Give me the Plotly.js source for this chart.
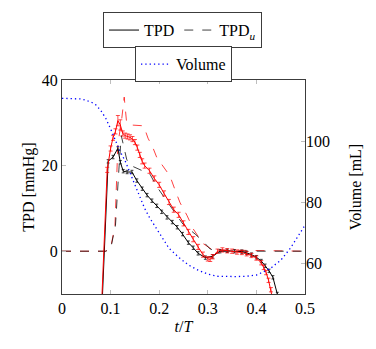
<!DOCTYPE html>
<html>
<head>
<meta charset="utf-8">
<script src="https://cdn.plot.ly/plotly-3.0.1.min.js"></script>
<style>
  body { margin: 0; background: #fff; }
  #plotTPD { width: 376px; height: 349px; }
</style>
</head>
<body>
<div id="plotTPD"></div>
<script>
// Access plot div
let plotTPD = document.getElementById("plotTPD");

// TPD (black, solid) and its uncertainty
var tpdX = [0.083, 0.095, 0.105, 0.115, 0.12, 0.126, 0.134, 0.144, 0.154, 0.165, 0.175, 0.185, 0.195, 0.205, 0.216, 0.227, 0.237, 0.248, 0.26, 0.27, 0.28, 0.295, 0.31, 0.325, 0.34, 0.355, 0.37, 0.38, 0.39, 0.4, 0.41, 0.418, 0.426, 0.434, 0.443];
var tpdY = [-11, 21, 22, 24, 20.8, 18.7, 18.5, 18.5, 16.5, 14.6, 13.1, 11.8, 10.6, 9.2, 7.9, 6.8, 5.6, 4, 2, 0.8, -0.5, -1.5, -1.2, 0, 0.1, 0, -0.1, -0.4, -0.8, -1.4, -2.3, -3.4, -4.6, -6.1, -10];
var tpdErr = [0.4, 0.4, 0.4, 0.4, 0.4, 0.4, 0.4, 0.4, 0.4, 0.4, 0.4, 0.4, 0.4, 0.4, 0.4, 0.4, 0.4, 0.4, 0.4, 0.4, 0.4, 0.4, 0.4, 0.4, 0.4, 0.4, 0.4, 0.4, 0.4, 0.4, 0.4, 0.4, 0.4, 0.4, 0.4];

// TPD_u (black, dashed)
var tpduX = [0, 0.09, 0.1, 0.11, 0.117, 0.122, 0.128, 0.133, 0.138, 0.15, 0.171, 0.181, 0.195, 0.208, 0.228, 0.249, 0.274, 0.29, 0.305, 0.32, 0.5];
var tpduY = [0, 0, 0.5, 6, 19, 27, 24, 21.5, 20.2, 19.6, 18.5, 18, 15.1, 12.9, 9.7, 6.3, 4, 2.3, 0.5, 0, 0];

// TPD (red, solid)
var tpdRedX = [0.082, 0.093, 0.1, 0.105, 0.11, 0.115, 0.12, 0.125, 0.13, 0.135, 0.14, 0.145, 0.15, 0.155, 0.16, 0.165, 0.17, 0.18, 0.19, 0.2, 0.21, 0.22, 0.23, 0.24, 0.25, 0.26, 0.27, 0.28, 0.29, 0.3, 0.305, 0.31, 0.32, 0.33, 0.34, 0.35, 0.36, 0.37, 0.38, 0.39, 0.4, 0.41, 0.415, 0.42, 0.425, 0.43, 0.435];
var tpdRedY = [-11, 19, 24, 26.5, 28, 30.5, 29.5, 27.5, 27, 26.8, 26.6, 26.2, 25.5, 24.2, 22.5, 21, 20, 18.8, 17, 15.5, 13.5, 11.5, 9.7, 8.5, 6.5, 4.5, 2.8, 1, -0.8, -1.8, -1.9, -1.3, 0, 0.3, 0.1, 0, -0.2, -0.3, -0.6, -1, -1.6, -2.7, -3.8, -5, -6.8, -9, -12];
var tpdRedErr = [0.6, 0.6, 0.6, 0.6, 0.6, 1.2, 1.2, 0.6, 0.6, 0.6, 0.6, 0.6, 0.6, 0.6, 0.6, 0.6, 0.6, 0.6, 0.6, 0.6, 0.6, 0.6, 0.6, 0.6, 0.6, 0.6, 0.6, 0.6, 0.6, 0.5, 0.5, 0.5, 0.5, 0.5, 0.5, 0.5, 0.5, 0.5, 0.5, 0.5, 0.5, 0.5, 0.5, 0.5, 0.5, 0.5, 0.5];

// TPD_u (red, dashed)
var tpduRedX = [0, 0.09, 0.1, 0.109, 0.115, 0.123, 0.128, 0.133, 0.14, 0.168, 0.177, 0.187, 0.195, 0.208, 0.222, 0.233, 0.243, 0.257, 0.27, 0.29, 0.31, 0.5];
var tpduRedY = [0, 0, 0.7, 6, 25, 31, 36, 30, 29.5, 29.3, 26.4, 24.2, 21.9, 19.9, 17.6, 14.2, 11.3, 8.4, 5.2, 1.8, 0.3, 0];

// Ventricular volume (blue, dotted)
var volX = [0, 0.02, 0.04, 0.06, 0.07, 0.08, 0.09, 0.1, 0.11, 0.12, 0.13, 0.14, 0.15, 0.16, 0.17, 0.18, 0.19, 0.2, 0.21, 0.22, 0.24, 0.26, 0.28, 0.3, 0.32, 0.34, 0.36, 0.38, 0.4, 0.41, 0.42, 0.43, 0.44, 0.45, 0.46, 0.47, 0.48, 0.49, 0.5];
var volY = [114, 114, 113.8, 112.8, 111.8, 110, 107.5, 104, 100, 96.5, 93.5, 89.5, 85.5, 81.5, 78, 75, 72.5, 70, 67.5, 65, 62, 59.5, 57.8, 56.5, 55.8, 55.7, 55.7, 55.8, 56.2, 56.9, 57.6, 58.5, 59.8, 61, 63, 65, 67.5, 70, 72.5];

var xTicks = [0, 0.1, 0.2, 0.3, 0.4, 0.5];
var tpdTicks = [0, 20, 40];
var volTicks = [60, 80, 100];

function drawTPD(plotDiv) {

  var red = 'rgb(255,0,0)';
  var black = 'rgb(0,0,0)';

  var tpdRed = {
    x: tpdRedX, y: tpdRedY,
    type: 'scatter', mode: 'lines',
    line: { color: red, width: 1 },
    error_y: { type: 'data', array: tpdRedErr, color: red, thickness: 0.7, width: 2 },
    showlegend: false
  };

  var tpduRed = {
    x: tpduRedX, y: tpduRedY,
    type: 'scatter', mode: 'lines',
    line: { color: red, width: 1, dash: 'dash' },
    opacity: 0.75,
    showlegend: false
  };

  var tpd = {
    x: tpdX, y: tpdY,
    name: 'TPD',
    type: 'scatter', mode: 'lines',
    line: { color: black, width: 1 },
    error_y: { type: 'data', array: tpdErr, color: black, thickness: 0.7, width: 1.5 },
    legend: 'legend',
    legendrank: 1
  };

  var tpdu = {
    x: tpduX, y: tpduY,
    name: 'TPD<sub><i>u</i></sub>',
    type: 'scatter', mode: 'lines',
    line: { color: black, width: 1, dash: 'dash' },
    opacity: 0.75,
    legend: 'legend',
    legendrank: 2
  };

  var volume = {
    x: volX, y: volY,
    name: 'Volume',
    yaxis: 'y2',
    type: 'scatter', mode: 'lines',
    line: { color: 'rgb(0,0,255)', width: 1.3, dash: '1.3px,3px' },
    legend: 'legend2'
  };

  var data = [tpduRed, tpdu, volume, tpd, tpdRed];

  var axisFont = { family: 'Liberation Serif, serif', size: 16, color: 'black' };

  var layout = {
    width: 376,
    height: 349,
    paper_bgcolor: 'white',
    plot_bgcolor: 'white',
    font: axisFont,
    margin: { l: 62, r: 71, t: 73, b: 55 },
    legend: {
      orientation: 'h',
      x: 0.496, y: 1.317,
      xanchor: 'center', yanchor: 'top',
      bordercolor: 'rgb(60,60,60)', borderwidth: 1,
      font: axisFont,
      itemwidth: 30,
      traceorder: 'normal'
    },
    legend2: {
      orientation: 'h',
      x: 0.5, y: 1.158,
      xanchor: 'center', yanchor: 'top',
      bordercolor: 'rgb(60,60,60)', borderwidth: 1,
      font: axisFont,
      itemwidth: 30
    },
    xaxis: {
      range: [0, 0.5],
      tickvals: xTicks,
      ticktext: xTicks.map(String),
      tickfont: axisFont,
      ticks: 'inside', ticklen: 4, tickcolor: 'rgb(190,190,190)',
      showline: true, linecolor: 'rgb(60,60,60)', linewidth: 1,
      mirror: 'ticks',
      showgrid: false, zeroline: false,
      title: { text: '<i>t</i>/<i>T</i>', font: axisFont, standoff: 4 }
    },
    yaxis: {
      range: [-10, 40],
      tickvals: tpdTicks,
      tickfont: axisFont,
      ticks: 'inside', ticklen: 4, tickcolor: 'rgb(190,190,190)',
      showline: true, linecolor: 'rgb(60,60,60)', linewidth: 1,
      mirror: true,
      showgrid: false, zeroline: false,
      title: { text: 'TPD [mmHg]', font: axisFont, standoff: 3 }
    },
    yaxis2: {
      overlaying: 'y',
      side: 'right',
      range: [50, 120],
      tickvals: volTicks,
      tickfont: axisFont,
      ticks: 'inside', ticklen: 4, tickcolor: 'rgb(190,190,190)',
      showline: false,
      showgrid: false, zeroline: false,
      title: { text: 'Volume [mL]', font: axisFont, standoff: 20 }
    }
  };

  let config = { staticPlot: true };

  Plotly.newPlot(plotDiv, data, layout, config);
}

drawTPD(plotTPD);
</script>
</body>
</html>
